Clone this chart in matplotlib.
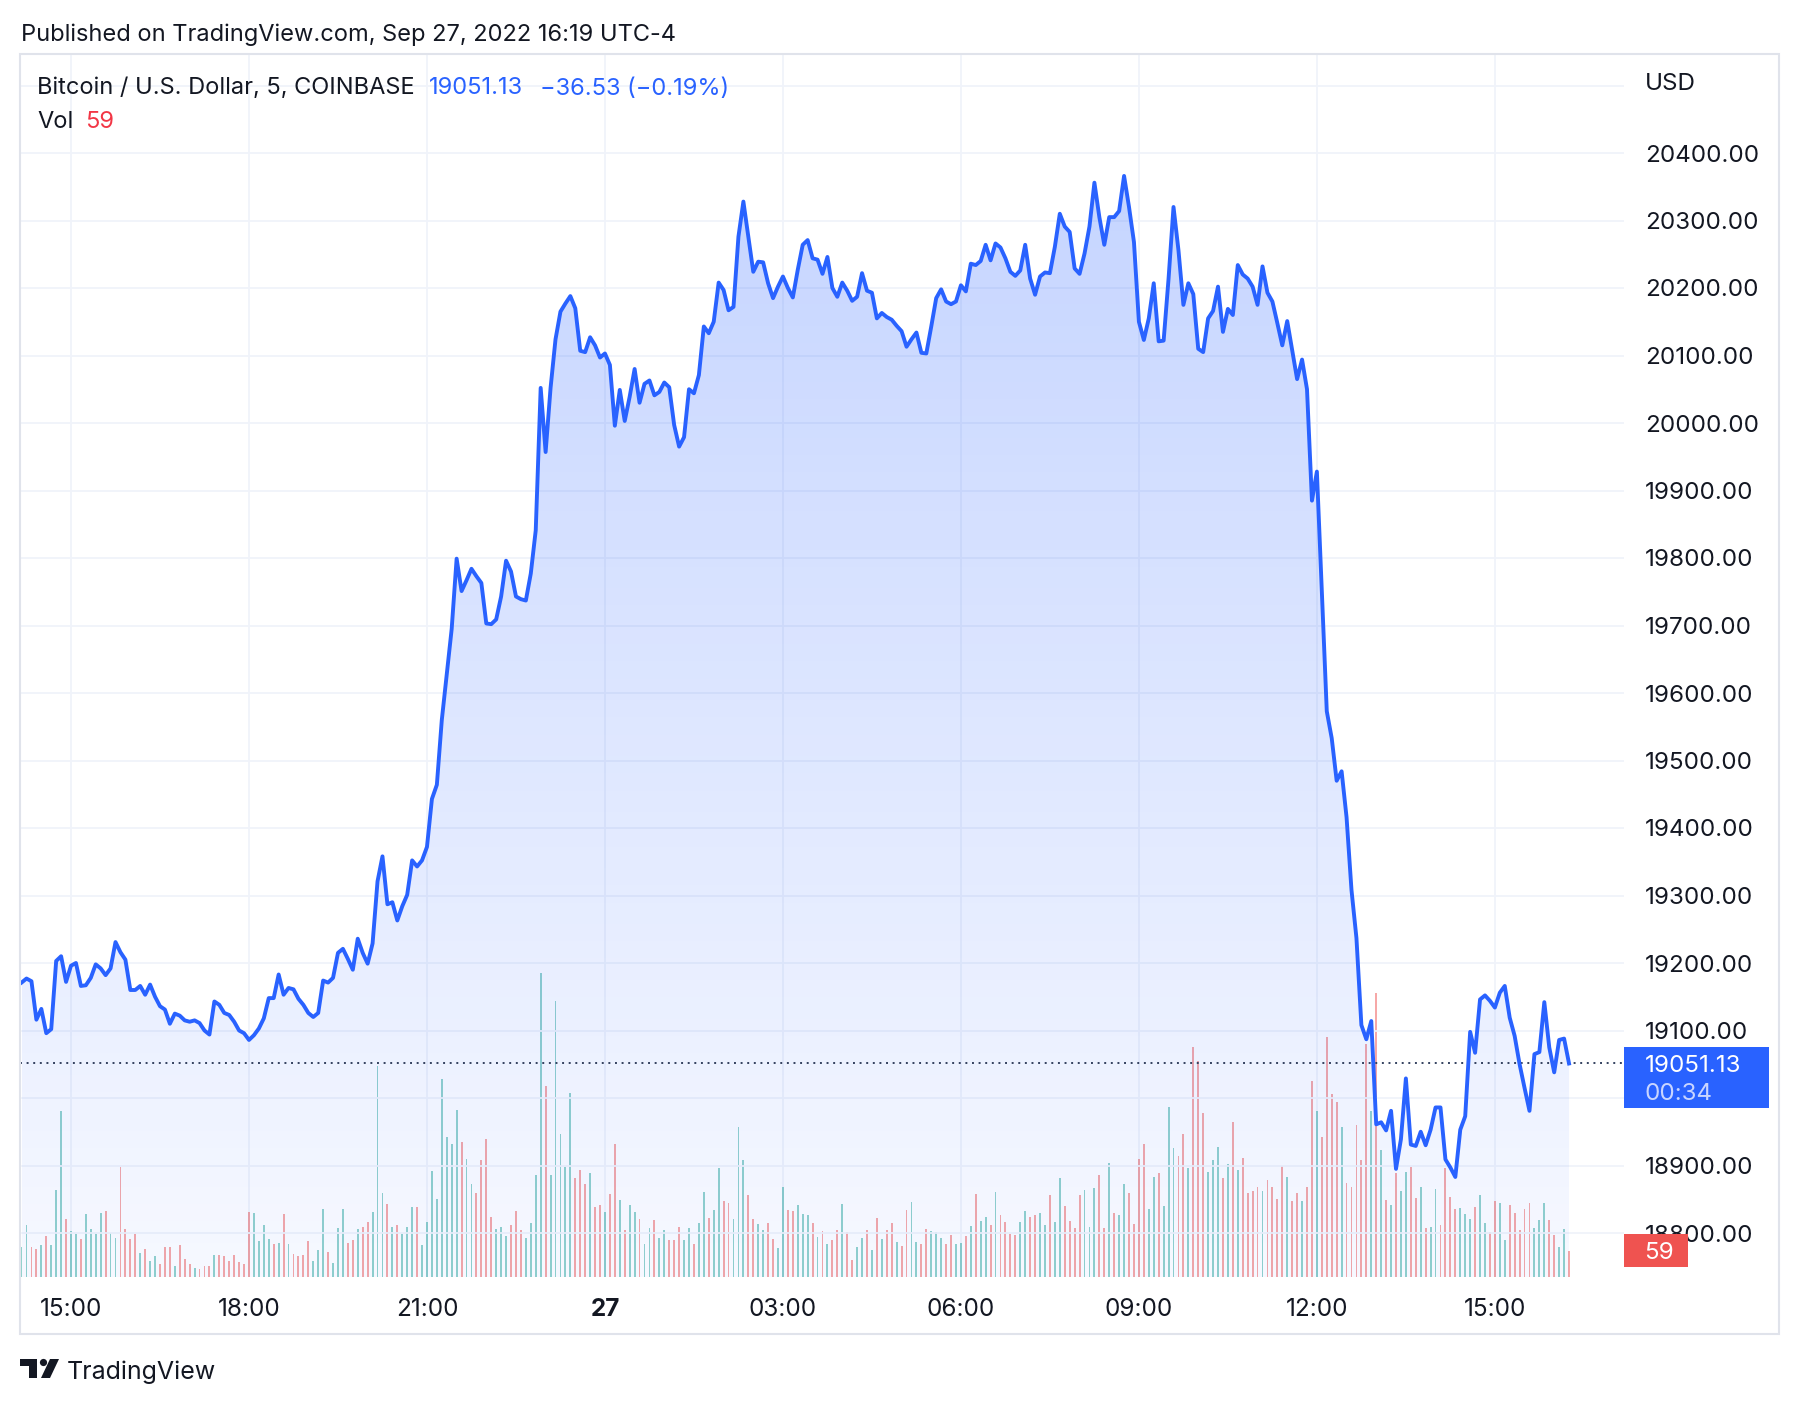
import numpy as np
import matplotlib
matplotlib.use('Agg')
import matplotlib.pyplot as plt
from matplotlib.patches import FancyBboxPatch, Polygon, Circle, Rectangle
from matplotlib.transforms import Affine2D, blended_transform_factory
from matplotlib.colors import to_rgb

plt.rcParams['font.family'] = ['Inter', 'DejaVu Sans']

# ---- data: BTC/USD 5 min bars, bar index 0 = Sep 26 15:00 ----
bar_start = -10
close = [
    19171, 19177, 19173, 19116, 19132, 19096, 19102, 19203, 19210, 19172,
    19196, 19200, 19166, 19167, 19178, 19198, 19192, 19182, 19192, 19231,
    19216, 19205, 19160, 19160, 19166, 19153, 19168, 19150, 19136, 19131,
    19110, 19125, 19122, 19115, 19113, 19115, 19111, 19100, 19094, 19143,
    19138, 19126, 19123, 19113, 19100, 19096, 19086, 19093, 19103, 19118,
    19148, 19148, 19183, 19153, 19163, 19161, 19147, 19138, 19126, 19120,
    19126, 19174, 19171, 19178, 19215, 19221, 19206, 19190, 19236, 19215,
    19199, 19229, 19321, 19358, 19287, 19290, 19263, 19284, 19301, 19352,
    19343, 19352, 19372, 19443, 19464, 19560, 19627, 19695, 19799, 19751,
    19767, 19784, 19773, 19763, 19703, 19702, 19709, 19743, 19796, 19780,
    19743, 19739, 19737, 19777, 19841, 20052, 19957, 20052, 20124, 20165,
    20177, 20188, 20170, 20107, 20105, 20127, 20115, 20097, 20103, 20086,
    19996, 20049, 20003, 20039, 20080, 20030, 20058, 20063, 20041, 20046,
    20060, 20053, 19997, 19965, 19979, 20050, 20044, 20071, 20143, 20133,
    20150, 20208, 20197, 20167, 20172, 20276, 20328, 20276, 20224, 20239,
    20238, 20207, 20185, 20202, 20217, 20200, 20186, 20227, 20264, 20271,
    20244, 20242, 20221, 20246, 20200, 20187, 20208, 20196, 20181, 20187,
    20222, 20196, 20193, 20155, 20163, 20157, 20153, 20144, 20136, 20113,
    20124, 20134, 20104, 20103, 20143, 20185, 20198, 20180, 20176, 20180,
    20204, 20195, 20236, 20234, 20240, 20264, 20241, 20266, 20260, 20244,
    20224, 20218, 20226, 20264, 20214, 20190, 20217, 20223, 20222, 20261,
    20310, 20291, 20283, 20229, 20221, 20251, 20291, 20356, 20305, 20264,
    20305, 20305, 20314, 20366, 20320, 20268, 20150, 20123, 20155, 20207,
    20121, 20122, 20214, 20320, 20256, 20175, 20207, 20191, 20110, 20105,
    20155, 20166, 20202, 20135, 20169, 20160, 20234, 20220, 20214, 20202,
    20175, 20232, 20193, 20180, 20148, 20115, 20151, 20108, 20065, 20094,
    20050, 19885, 19928, 19750, 19573, 19533, 19470, 19484, 19416, 19308,
    19237, 19108, 19087, 19114, 18961, 18964, 18952, 18981, 18895, 18939,
    19029, 18931, 18929, 18950, 18930, 18953, 18986, 18986, 18909, 18897,
    18883, 18953, 18973, 19098, 19067, 19146, 19152, 19144, 19134, 19156,
    19166, 19119, 19092, 19050, 19015, 18981, 19065, 19068, 19142, 19075,
    19038, 19086, 19088, 19051.13,
]
volume = [
    69, 119, 69, 64, 73, 94, 74, 199, 381, 134,
    105, 98, 88, 144, 111, 98, 148, 151, 102, 90,
    253, 111, 87, 100, 56, 65, 36, 48, 29, 69,
    69, 25, 73, 42, 31, 21, 19, 26, 26, 50,
    50, 48, 36, 50, 34, 31, 149, 146, 82, 119,
    87, 75, 78, 144, 75, 52, 49, 51, 82, 37,
    61, 156, 57, 32, 113, 156, 78, 84, 111, 115,
    126, 149, 484, 192, 167, 115, 120, 100, 115, 161,
    161, 73, 126, 244, 180, 456, 322, 305, 383, 310,
    272, 213, 193, 270, 318, 138, 110, 115, 94, 119,
    151, 107, 90, 123, 235, 700, 438, 234, 634, 328,
    253, 424, 228, 245, 213, 238, 160, 166, 149, 191,
    306, 177, 107, 166, 149, 133, 77, 112, 130, 90,
    108, 85, 85, 116, 84, 112, 77, 125, 195, 135,
    154, 250, 175, 171, 133, 345, 269, 189, 133, 121,
    108, 123, 87, 66, 206, 154, 152, 166, 145, 142,
    125, 91, 106, 77, 85, 108, 168, 103, 39, 68,
    89, 108, 61, 135, 88, 107, 125, 80, 71, 154,
    173, 80, 77, 110, 106, 103, 89, 76, 97, 76,
    79, 94, 117, 190, 129, 137, 120, 195, 143, 126,
    100, 97, 126, 152, 139, 143, 148, 120, 189, 126,
    227, 163, 129, 112, 189, 200, 116, 204, 234, 112,
    263, 146, 143, 213, 192, 122, 271, 306, 156, 229,
    240, 163, 390, 296, 278, 329, 250, 528, 497, 376,
    241, 269, 298, 227, 260, 356, 246, 273, 192, 198,
    207, 198, 224, 207, 179, 255, 231, 174, 192, 174,
    208, 450, 382, 322, 552, 420, 402, 345, 215, 207,
    349, 270, 535, 381, 653, 293, 176, 165, 239, 198,
    241, 253, 182, 208, 113, 116, 203, 119, 251, 185,
    156, 159, 144, 134, 161, 188, 123, 103, 174, 171,
    84, 165, 146, 107, 157, 169, 113, 132, 171, 132,
    96, 70, 111, 59,
]
# g = up bar, r = down bar
vol_dir = "".join([
    "ggrrgrgggr", "ggrggggrgg", "rrrrgrggrr", "rgrrrgrrrg", "rrrrrrrggg",
    "grgrgrrrrg", "ggrgggrrgr", "rgggrgrggg", "rggggggggr", "ggrrrrgggr",
    "rrggggrggg", "ggrrrgrrgr", "rgrggrggrg", "grrrggrggr", "ggrrgggrrg",
    "grrggrrggg", "rgrgrrgrrg", "grgrgrrgrr", "ggrrgggrrg", "grgrggrgrr",
    "rrggrrggrg", "grrrrgggrr", "grggrrrrgg", "rgggrrgrrr", "gggrgrgrrr",
    "rgrrrrgrrg", "rrgrrrrgrr", "rrrgrgrgrg", "grrgrggrrr", "rgggrggrrg",
    "grrrrrgggr", "rggr",
])
time_ticks = [0, 36, 72, 108, 144, 180, 216, 252, 288]
time_labels = ['15:00', '18:00', '21:00', '27', '03:00', '06:00', '09:00', '12:00', '15:00']
price_ticks = list(range(18800, 20501, 100))
last_price = 19051.13
last_change = '\u221236.53 (\u22120.19%)'
last_volume = 59
countdown = '00:34'

bars = np.arange(bar_start, bar_start + len(close))
close = np.array(close, dtype=float)
volume = np.array(volume, dtype=float)

W, H = 1800, 1404
fig = plt.figure(figsize=(W / 100, H / 100), dpi=100)
fig.patch.set_facecolor('white')
# pixel coords measured from the top-left corner
px = Affine2D().scale(1, -1).translate(0, H).scale(1 / W, 1 / H) + fig.transFigure

TXT = '#131722'
BLUE = '#2962ff'
RED = '#f23645'
GRID = '#f0f3fa'
FS = 17

# plot area (pixels): x 19.5..1624, y 54..1277
L, R, T, B = 19.5, 1624, 54, 1277
rect = [L / W, 1 - B / H, (R - L) / W, (B - T) / H]

ax_vol = fig.add_axes(rect)
ax = ax_vol.twinx()

x0 = (L - 71) / 4.944
x1 = (R - 71) / 4.944
ax_vol.set_xlim(x0, x1)

# volume pane
cols = ['#26a69a' if d == 'g' else '#ef5350' for d in vol_dir]
ax_vol.bar(bars, volume, width=0.38, color=cols, alpha=0.5, linewidth=0)
ax_vol.set_ylim(0, (B - T) / 0.435)
ax_vol.set_yticks([])
ax_vol.set_xticks(time_ticks)
ax_vol.tick_params(axis='x', length=0, labelbottom=False)
ax_vol.grid(axis='x', color=GRID, lw=1.3)
ax_vol.set_axisbelow(True)
for s in ax_vol.spines.values():
    s.set_visible(False)

# price pane
p_lo = 18800 - (B - 1233) / 0.675
p_hi = 18800 + (1233 - T) / 0.675
ax.set_ylim(p_lo, p_hi)
ax.set_yticks(price_ticks)
# 19000 sits under the last-price tag and 20500 under "USD"
ax.set_yticklabels([f'{p:.2f}' if p not in (19000, 20500) else '' for p in price_ticks])
ax.tick_params(axis='y', length=0, pad=15, labelsize=17.4, labelcolor=TXT)
for lab in ax.get_yticklabels():
    lab.set_va('center_baseline')
ax.grid(axis='y', color=GRID, lw=1.3)
ax.set_axisbelow(True)
for s in ax.spines.values():
    s.set_visible(False)

# gradient area under the line
fill = ax.fill_between(bars, close, p_lo, facecolor='none', edgecolor='none')
grad = np.zeros((256, 1, 4))
grad[..., :3] = to_rgb(BLUE)
grad[:, 0, 3] = np.linspace(0.04, 0.27, 256)
im = ax.imshow(grad, aspect='auto', origin='lower',
               extent=[bars[0], bars[-1], p_lo, close.max()], zorder=1)
im.set_clip_path(fill.get_paths()[0], transform=ax.transData)

ax.plot(bars, close, color=BLUE, lw=2.8, zorder=3, solid_joinstyle='round')
ax.axhline(last_price, color='#33415f', lw=1.4, ls=(0, (1, 2.4)), zorder=2)
ax.set_xlim(x0, x1)
ax.set_ylim(p_lo, p_hi)

# time axis labels
tt = blended_transform_factory(ax.transData, px)
for t, lab in zip(time_ticks, time_labels):
    ax.text(t, 1309, lab, transform=tt, ha='center', va='center', fontsize=17.5,
            color=TXT, fontweight='bold' if lab == '27' else 'normal')

# outer frame
fig.add_artist(Rectangle((19.5, 54), 1759.5, 1280, transform=px, fill=False,
                         edgecolor='#e0e3eb', lw=1.5))

# header texts
fig.text(21, 34.5, 'Published on TradingView.com, Sep 27, 2022 16:19 UTC-4', transform=px,
         fontsize=FS, color=TXT, va='center')
fig.text(37, 88.5, 'Bitcoin / U.S. Dollar, 5, COINBASE', transform=px,
         fontsize=FS, color=TXT, va='center')
fig.text(429, 88.5, f'{last_price:.2f}', transform=px, fontsize=FS, color=BLUE, va='center')
fig.text(540, 88.5, last_change, transform=px, fontsize=FS, color=BLUE, va='center')
fig.text(37, 122.5, 'Vol', transform=px, fontsize=FS, color=TXT, va='center')
fig.text(85, 122.5, f'{last_volume}', transform=px, fontsize=FS, color=RED, va='center')
fig.text(1645, 83.5, 'USD', transform=px, fontsize=17.4, color=TXT, va='center')

# last price / volume tags on the price scale
fig.add_artist(FancyBboxPatch((1624, 1047), 145, 61, transform=px,
                              boxstyle='round,pad=0,rounding_size=0.002',
                              facecolor=BLUE, edgecolor='none', zorder=5))
fig.text(1645, 1066.5, f'{last_price:.2f}', transform=px, fontsize=17.4, color='white',
         va='center', zorder=6)
fig.text(1645, 1094.5, countdown, transform=px, fontsize=17.4, color='#c9d5ff',
         va='center', zorder=6)
fig.add_artist(FancyBboxPatch((1624, 1234), 64, 33, transform=px,
                              boxstyle='round,pad=0,rounding_size=0.002',
                              facecolor='#ef5350', edgecolor='none', zorder=5))
fig.text(1659, 1253, f'{last_volume}', transform=px, fontsize=17.4, color='white',
         va='center', ha='center', zorder=6)

# TradingView logo
logo_kw = dict(transform=px, facecolor=TXT, edgecolor='none')
fig.add_artist(Polygon([(20, 1359), (37, 1359), (37, 1378), (29, 1378), (29, 1366), (20, 1366)],
                       closed=True, **logo_kw))
fig.add_artist(Circle((43.5, 1362.5), 3.6, **logo_kw))
fig.add_artist(Polygon([(50, 1359), (59, 1359), (50, 1378), (41, 1378)], closed=True, **logo_kw))
fig.text(67, 1372, 'TradingView', transform=px, fontsize=18, color=TXT, va='center')

fig.savefig('out.png', dpi=100, facecolor='white')
